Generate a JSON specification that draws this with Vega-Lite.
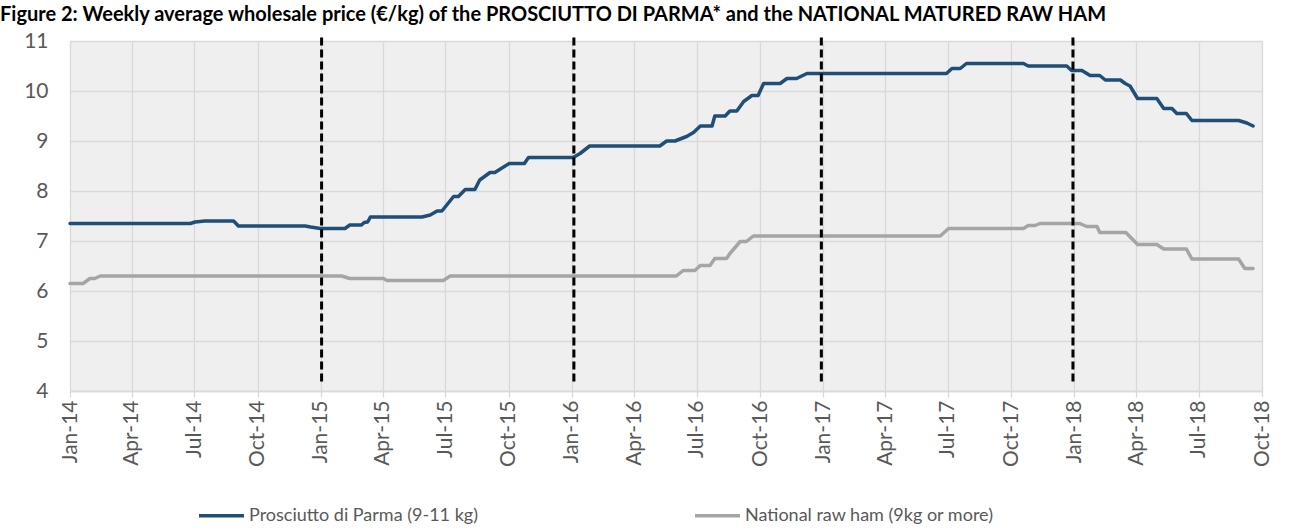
{
  "$schema": "https://vega.github.io/schema/vega-lite/v6.json",
  "width": 1192,
  "height": 350,
  "autosize": {"type": "none"},
  "padding": {"left": 70, "top": 41, "right": 28, "bottom": 140},
  "background": "white",
  "title": {
    "text": "Figure 2: Weekly average wholesale price (€/kg) of the PROSCIUTTO DI PARMA* and the NATIONAL MATURED RAW HAM",
    "anchor": "start",
    "frame": "group",
    "dx": -70,
    "offset": -11,
    "baseline": "alphabetic",
    "fontSize": 20,
    "fontWeight": "bold",
    "color": "#000000",
    "font": "Lato"
  },
  "config": {
    "font": "Lato",
    "view": {"stroke": null, "fill": "#efefef"}
  },
  "datasets": {
    "prices": [
      {"date": "2014-01-01", "series": "Prosciutto di Parma (9-11 kg)", "price": 7.35},
      {"date": "2014-06-25", "series": "Prosciutto di Parma (9-11 kg)", "price": 7.35},
      {"date": "2014-07-02", "series": "Prosciutto di Parma (9-11 kg)", "price": 7.38},
      {"date": "2014-07-16", "series": "Prosciutto di Parma (9-11 kg)", "price": 7.40},
      {"date": "2014-08-27", "series": "Prosciutto di Parma (9-11 kg)", "price": 7.40},
      {"date": "2014-09-03", "series": "Prosciutto di Parma (9-11 kg)", "price": 7.30},
      {"date": "2014-12-09", "series": "Prosciutto di Parma (9-11 kg)", "price": 7.30},
      {"date": "2014-12-17", "series": "Prosciutto di Parma (9-11 kg)", "price": 7.28},
      {"date": "2014-12-31", "series": "Prosciutto di Parma (9-11 kg)", "price": 7.25},
      {"date": "2015-02-05", "series": "Prosciutto di Parma (9-11 kg)", "price": 7.25},
      {"date": "2015-02-12", "series": "Prosciutto di Parma (9-11 kg)", "price": 7.32},
      {"date": "2015-03-01", "series": "Prosciutto di Parma (9-11 kg)", "price": 7.32},
      {"date": "2015-03-05", "series": "Prosciutto di Parma (9-11 kg)", "price": 7.37},
      {"date": "2015-03-10", "series": "Prosciutto di Parma (9-11 kg)", "price": 7.38},
      {"date": "2015-03-14", "series": "Prosciutto di Parma (9-11 kg)", "price": 7.48},
      {"date": "2015-05-28", "series": "Prosciutto di Parma (9-11 kg)", "price": 7.48},
      {"date": "2015-06-09", "series": "Prosciutto di Parma (9-11 kg)", "price": 7.52},
      {"date": "2015-06-19", "series": "Prosciutto di Parma (9-11 kg)", "price": 7.60},
      {"date": "2015-06-26", "series": "Prosciutto di Parma (9-11 kg)", "price": 7.60},
      {"date": "2015-07-13", "series": "Prosciutto di Parma (9-11 kg)", "price": 7.89},
      {"date": "2015-07-20", "series": "Prosciutto di Parma (9-11 kg)", "price": 7.89},
      {"date": "2015-07-30", "series": "Prosciutto di Parma (9-11 kg)", "price": 8.03},
      {"date": "2015-08-13", "series": "Prosciutto di Parma (9-11 kg)", "price": 8.03},
      {"date": "2015-08-20", "series": "Prosciutto di Parma (9-11 kg)", "price": 8.22},
      {"date": "2015-09-04", "series": "Prosciutto di Parma (9-11 kg)", "price": 8.37},
      {"date": "2015-09-11", "series": "Prosciutto di Parma (9-11 kg)", "price": 8.37},
      {"date": "2015-10-02", "series": "Prosciutto di Parma (9-11 kg)", "price": 8.55},
      {"date": "2015-10-24", "series": "Prosciutto di Parma (9-11 kg)", "price": 8.55},
      {"date": "2015-10-30", "series": "Prosciutto di Parma (9-11 kg)", "price": 8.67},
      {"date": "2016-01-03", "series": "Prosciutto di Parma (9-11 kg)", "price": 8.67},
      {"date": "2016-01-13", "series": "Prosciutto di Parma (9-11 kg)", "price": 8.75},
      {"date": "2016-01-27", "series": "Prosciutto di Parma (9-11 kg)", "price": 8.90},
      {"date": "2016-05-08", "series": "Prosciutto di Parma (9-11 kg)", "price": 8.90},
      {"date": "2016-05-18", "series": "Prosciutto di Parma (9-11 kg)", "price": 9.00},
      {"date": "2016-05-30", "series": "Prosciutto di Parma (9-11 kg)", "price": 9.00},
      {"date": "2016-06-16", "series": "Prosciutto di Parma (9-11 kg)", "price": 9.09},
      {"date": "2016-06-26", "series": "Prosciutto di Parma (9-11 kg)", "price": 9.17},
      {"date": "2016-07-06", "series": "Prosciutto di Parma (9-11 kg)", "price": 9.30},
      {"date": "2016-07-23", "series": "Prosciutto di Parma (9-11 kg)", "price": 9.30},
      {"date": "2016-07-27", "series": "Prosciutto di Parma (9-11 kg)", "price": 9.50},
      {"date": "2016-08-11", "series": "Prosciutto di Parma (9-11 kg)", "price": 9.50},
      {"date": "2016-08-18", "series": "Prosciutto di Parma (9-11 kg)", "price": 9.60},
      {"date": "2016-08-28", "series": "Prosciutto di Parma (9-11 kg)", "price": 9.60},
      {"date": "2016-09-07", "series": "Prosciutto di Parma (9-11 kg)", "price": 9.79},
      {"date": "2016-09-19", "series": "Prosciutto di Parma (9-11 kg)", "price": 9.91},
      {"date": "2016-09-28", "series": "Prosciutto di Parma (9-11 kg)", "price": 9.91},
      {"date": "2016-10-06", "series": "Prosciutto di Parma (9-11 kg)", "price": 10.15},
      {"date": "2016-10-30", "series": "Prosciutto di Parma (9-11 kg)", "price": 10.15},
      {"date": "2016-11-09", "series": "Prosciutto di Parma (9-11 kg)", "price": 10.25},
      {"date": "2016-11-23", "series": "Prosciutto di Parma (9-11 kg)", "price": 10.25},
      {"date": "2016-12-08", "series": "Prosciutto di Parma (9-11 kg)", "price": 10.35},
      {"date": "2017-06-29", "series": "Prosciutto di Parma (9-11 kg)", "price": 10.35},
      {"date": "2017-07-07", "series": "Prosciutto di Parma (9-11 kg)", "price": 10.45},
      {"date": "2017-07-19", "series": "Prosciutto di Parma (9-11 kg)", "price": 10.45},
      {"date": "2017-07-28", "series": "Prosciutto di Parma (9-11 kg)", "price": 10.55},
      {"date": "2017-10-19", "series": "Prosciutto di Parma (9-11 kg)", "price": 10.55},
      {"date": "2017-10-26", "series": "Prosciutto di Parma (9-11 kg)", "price": 10.50},
      {"date": "2017-12-21", "series": "Prosciutto di Parma (9-11 kg)", "price": 10.50},
      {"date": "2017-12-28", "series": "Prosciutto di Parma (9-11 kg)", "price": 10.41},
      {"date": "2018-01-12", "series": "Prosciutto di Parma (9-11 kg)", "price": 10.41},
      {"date": "2018-01-24", "series": "Prosciutto di Parma (9-11 kg)", "price": 10.31},
      {"date": "2018-02-07", "series": "Prosciutto di Parma (9-11 kg)", "price": 10.31},
      {"date": "2018-02-15", "series": "Prosciutto di Parma (9-11 kg)", "price": 10.22},
      {"date": "2018-03-09", "series": "Prosciutto di Parma (9-11 kg)", "price": 10.22},
      {"date": "2018-03-16", "series": "Prosciutto di Parma (9-11 kg)", "price": 10.15},
      {"date": "2018-03-23", "series": "Prosciutto di Parma (9-11 kg)", "price": 10.10},
      {"date": "2018-04-03", "series": "Prosciutto di Parma (9-11 kg)", "price": 9.85},
      {"date": "2018-05-01", "series": "Prosciutto di Parma (9-11 kg)", "price": 9.85},
      {"date": "2018-05-11", "series": "Prosciutto di Parma (9-11 kg)", "price": 9.65},
      {"date": "2018-05-23", "series": "Prosciutto di Parma (9-11 kg)", "price": 9.65},
      {"date": "2018-05-30", "series": "Prosciutto di Parma (9-11 kg)", "price": 9.55},
      {"date": "2018-06-13", "series": "Prosciutto di Parma (9-11 kg)", "price": 9.55},
      {"date": "2018-06-21", "series": "Prosciutto di Parma (9-11 kg)", "price": 9.41},
      {"date": "2018-08-28", "series": "Prosciutto di Parma (9-11 kg)", "price": 9.41},
      {"date": "2018-09-09", "series": "Prosciutto di Parma (9-11 kg)", "price": 9.36},
      {"date": "2018-09-18", "series": "Prosciutto di Parma (9-11 kg)", "price": 9.30},
      {"date": "2014-01-01", "series": "National raw ham (9kg or more)", "price": 6.15},
      {"date": "2014-01-20", "series": "National raw ham (9kg or more)", "price": 6.15},
      {"date": "2014-01-30", "series": "National raw ham (9kg or more)", "price": 6.25},
      {"date": "2014-02-06", "series": "National raw ham (9kg or more)", "price": 6.25},
      {"date": "2014-02-14", "series": "National raw ham (9kg or more)", "price": 6.30},
      {"date": "2015-01-31", "series": "National raw ham (9kg or more)", "price": 6.30},
      {"date": "2015-02-12", "series": "National raw ham (9kg or more)", "price": 6.25},
      {"date": "2015-04-02", "series": "National raw ham (9kg or more)", "price": 6.25},
      {"date": "2015-04-07", "series": "National raw ham (9kg or more)", "price": 6.21},
      {"date": "2015-06-28", "series": "National raw ham (9kg or more)", "price": 6.21},
      {"date": "2015-07-08", "series": "National raw ham (9kg or more)", "price": 6.30},
      {"date": "2016-06-01", "series": "National raw ham (9kg or more)", "price": 6.30},
      {"date": "2016-06-11", "series": "National raw ham (9kg or more)", "price": 6.41},
      {"date": "2016-06-28", "series": "National raw ham (9kg or more)", "price": 6.41},
      {"date": "2016-07-06", "series": "National raw ham (9kg or more)", "price": 6.51},
      {"date": "2016-07-20", "series": "National raw ham (9kg or more)", "price": 6.51},
      {"date": "2016-07-27", "series": "National raw ham (9kg or more)", "price": 6.65},
      {"date": "2016-08-13", "series": "National raw ham (9kg or more)", "price": 6.65},
      {"date": "2016-08-18", "series": "National raw ham (9kg or more)", "price": 6.75},
      {"date": "2016-09-02", "series": "National raw ham (9kg or more)", "price": 6.99},
      {"date": "2016-09-11", "series": "National raw ham (9kg or more)", "price": 6.99},
      {"date": "2016-09-21", "series": "National raw ham (9kg or more)", "price": 7.10},
      {"date": "2017-06-20", "series": "National raw ham (9kg or more)", "price": 7.10},
      {"date": "2017-07-02", "series": "National raw ham (9kg or more)", "price": 7.25},
      {"date": "2017-10-19", "series": "National raw ham (9kg or more)", "price": 7.25},
      {"date": "2017-10-26", "series": "National raw ham (9kg or more)", "price": 7.31},
      {"date": "2017-11-05", "series": "National raw ham (9kg or more)", "price": 7.31},
      {"date": "2017-11-12", "series": "National raw ham (9kg or more)", "price": 7.35},
      {"date": "2018-01-09", "series": "National raw ham (9kg or more)", "price": 7.35},
      {"date": "2018-01-19", "series": "National raw ham (9kg or more)", "price": 7.29},
      {"date": "2018-02-03", "series": "National raw ham (9kg or more)", "price": 7.29},
      {"date": "2018-02-07", "series": "National raw ham (9kg or more)", "price": 7.17},
      {"date": "2018-03-17", "series": "National raw ham (9kg or more)", "price": 7.17},
      {"date": "2018-04-03", "series": "National raw ham (9kg or more)", "price": 6.93},
      {"date": "2018-05-01", "series": "National raw ham (9kg or more)", "price": 6.93},
      {"date": "2018-05-11", "series": "National raw ham (9kg or more)", "price": 6.84},
      {"date": "2018-06-13", "series": "National raw ham (9kg or more)", "price": 6.84},
      {"date": "2018-06-21", "series": "National raw ham (9kg or more)", "price": 6.64},
      {"date": "2018-08-28", "series": "National raw ham (9kg or more)", "price": 6.64},
      {"date": "2018-09-06", "series": "National raw ham (9kg or more)", "price": 6.45},
      {"date": "2018-09-18", "series": "National raw ham (9kg or more)", "price": 6.45}
    ],
    "markers": [
      {"date": "2015-01-02"},
      {"date": "2016-01-04"},
      {"date": "2016-12-29"},
      {"date": "2017-12-30"}
    ]
  },
  "encoding": {
    "x": {
      "field": "date",
      "type": "temporal",
      "scale": {
        "type": "utc",
        "domain": [
          {"year": 2014, "month": 1, "date": 1, "utc": true},
          {"year": 2018, "month": 10, "date": 1, "utc": true}
        ]
      },
      "axis": {
        "title": null,
        "format": "%b-%y",
        "values": [
          {"year": 2014, "month": 1, "date": 1, "utc": true},
          {"year": 2014, "month": 4, "date": 1, "utc": true},
          {"year": 2014, "month": 7, "date": 1, "utc": true},
          {"year": 2014, "month": 10, "date": 1, "utc": true},
          {"year": 2015, "month": 1, "date": 1, "utc": true},
          {"year": 2015, "month": 4, "date": 1, "utc": true},
          {"year": 2015, "month": 7, "date": 1, "utc": true},
          {"year": 2015, "month": 10, "date": 1, "utc": true},
          {"year": 2016, "month": 1, "date": 1, "utc": true},
          {"year": 2016, "month": 4, "date": 1, "utc": true},
          {"year": 2016, "month": 7, "date": 1, "utc": true},
          {"year": 2016, "month": 10, "date": 1, "utc": true},
          {"year": 2017, "month": 1, "date": 1, "utc": true},
          {"year": 2017, "month": 4, "date": 1, "utc": true},
          {"year": 2017, "month": 7, "date": 1, "utc": true},
          {"year": 2017, "month": 10, "date": 1, "utc": true},
          {"year": 2018, "month": 1, "date": 1, "utc": true},
          {"year": 2018, "month": 4, "date": 1, "utc": true},
          {"year": 2018, "month": 7, "date": 1, "utc": true},
          {"year": 2018, "month": 10, "date": 1, "utc": true}
        ],
        "labelAngle": -90,
        "labelAlign": "right",
        "labelBaseline": "middle",
        "labelFontSize": 21,
        "labelColor": "#595959",
        "labelPadding": 3,
        "labelFlush": false,
        "labelOverlap": false,
        "grid": true,
        "gridColor": "#d9d9d9",
        "gridWidth": 1.3,
        "domainColor": "#d9d9d9",
        "domainWidth": 1.5,
        "tickColor": "#d9d9d9",
        "tickWidth": 1.3,
        "tickSize": 6
      }
    }
  },
  "layer": [
    {
      "data": {"name": "prices"},
      "mark": {"type": "line", "strokeWidth": 3.5, "strokeJoin": "round", "strokeCap": "round"},
      "encoding": {
        "y": {
          "field": "price",
          "type": "quantitative",
          "scale": {"domain": [4, 11], "nice": false, "zero": false},
          "axis": {
            "title": null,
            "values": [4, 5, 6, 7, 8, 9, 10, 11],
            "domain": false,
            "ticks": false,
            "labelFontSize": 21,
            "labelColor": "#595959",
            "labelPadding": 22,
            "grid": true,
            "gridColor": "#d9d9d9",
            "gridWidth": 1.3
          }
        },
        "color": {
          "field": "series",
          "type": "nominal",
          "scale": {
            "domain": ["Prosciutto di Parma (9-11 kg)", "National raw ham (9kg or more)"],
            "range": ["#1f4e79", "#a5a5a5"]
          },
          "legend": {
            "title": null,
            "orient": "none",
            "legendX": 127,
            "legendY": 450,
            "direction": "horizontal",
            "symbolType": "stroke",
            "symbolSize": 2025,
            "symbolStrokeWidth": 3.5,
            "labelFontSize": 18,
            "labelColor": "#595959",
            "labelOffset": 3,
            "labelLimit": 500,
            "columnPadding": 210
          }
        }
      }
    },
    {
      "data": {"name": "markers"},
      "mark": {"type": "rule", "color": "#000000", "strokeWidth": 3, "strokeDash": [8, 4]},
      "encoding": {
        "y": {"datum": 4.19},
        "y2": {"datum": 11.09}
      }
    }
  ]
}
